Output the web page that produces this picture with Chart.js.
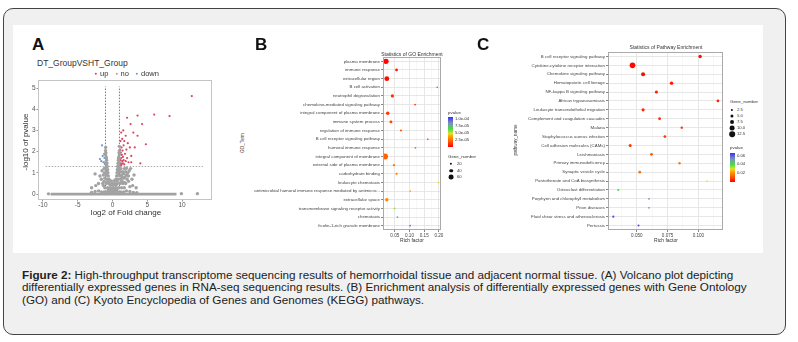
<!DOCTYPE html>
<html>
<head>
<meta charset="utf-8">
<script src="https://cdn.jsdelivr.net/npm/chart.js@4.4.0/dist/chart.umd.min.js"></script>
<style>
  body { margin: 0; width: 798px; height: 342px; background: #fff; position: relative; overflow: hidden;
         font-family: "Liberation Sans", Arial, sans-serif; color: #222; }
  #frame { position: absolute; left: 3px; top: 8px; width: 783px; height: 327px; box-sizing: border-box;
           border: 1px solid #444; border-radius: 10px; background: #f0f0f0; }
  #panel { position: absolute; left: 13px; top: 25px; width: 750px; height: 228px; background: #fff; }
  canvas { position: absolute; }
  .l { position: absolute; white-space: nowrap; transform: translateY(-50%); line-height: 1; }
  .c { position: absolute; white-space: nowrap; transform: translate(-50%, -50%); line-height: 1; }
  .v { position: absolute; white-space: nowrap; transform: translate(-50%, -50%) rotate(-90deg); line-height: 1; }
  .letter { font-weight: bold; font-size: 17px; color: #111; }
  .dot { position: absolute; border-radius: 50%; transform: translate(-50%, -50%); }
  #caption { position: absolute; left: 22px; top: 269px; font-size: 11.7px; line-height: 12.4px; color: #222; white-space: nowrap; }
</style>
</head>
<body>
<div id="frame"></div>
<div id="panel"></div>

<canvas id="volcano" width="200" height="135" style="left:16px;top:75px;width:200px;height:135px"></canvas>
<canvas id="goChart" width="195" height="190" style="left:250px;top:52px;width:195px;height:190px"></canvas>
<canvas id="keggChart" width="227" height="195" style="left:500px;top:47px;width:227px;height:195px"></canvas>

<!-- panel A texts -->
<div class="l letter" style="left:32px;top:44px">A</div>
<div class="l" style="left:37px;top:63px;font-size:8.5px;color:#333">DT_GroupVSHT_Group</div>
<div id="legendA"></div>
<div class="c" style="left:126px;top:213px;font-size:8px;color:#333">log2 of Fold change</div>
<div class="v" style="left:26px;top:142px;font-size:8px;color:#333">-log10 of pvalue</div>

<!-- panel B texts -->
<div class="l letter" style="left:255px;top:44px">B</div>
<div class="c" style="left:412px;top:54px;font-size:5px;color:#333">Statistics of GO Enrichment</div>
<div class="v" style="left:243px;top:143px;font-size:4.6px;color:#333">GO_Term</div>
<div class="c" style="left:412px;top:240px;font-size:5px;color:#333">Rich factor</div>
<div id="legendB"></div>

<!-- panel C texts -->
<div class="l letter" style="left:477px;top:44px">C</div>
<div class="c" style="left:666px;top:47px;font-size:5px;color:#333">Statistics of Pathway Enrichment</div>
<div class="v" style="left:516px;top:140px;font-size:4.6px;color:#333">pathway_name</div>
<div class="c" style="left:666px;top:240px;font-size:5px;color:#333">Rich factor</div>
<div id="legendC"></div>

<div id="caption"><b>Figure 2:</b> High-throughput transcriptome sequencing results of hemorrhoidal tissue and adjacent normal tissue. (A) Volcano plot depicting<br>differentially expressed genes in RNA-seq sequencing results. (B) Enrichment analysis of differentially expressed genes with Gene Ontology<br>(GO) and (C) Kyoto Encyclopedia of Genes and Genomes (KEGG) pathways.</div>

<script>
// ---------- Panel A: volcano ----------
const volcanoXTicks = [-10, -5, 0, 5, 10];
const volcanoYTicks = [0, 1, 2, 3, 4, 5];
const foldCut = 1;      // |log2 FC| threshold
const pvalueCut = 1.3;  // -log10(0.05)
const zeroLineX = [-8.9, 9.2];
const thresholdLineX = [-9.6, 13.0];
const volcanoGroups = ['up', 'no', 'down'];

const grayPoints = [
  [-3.0,0.08],[-2.5,0.12],[-2.0,0.15],[-1.6,0.1],[-1.2,0.1],[-0.8,0.1],[-0.4,0.1],[0,0.1],[0.4,0.1],[0.8,0.1],
  [1.2,0.1],[1.6,0.1],[2.0,0.15],[2.5,0.12],[3.0,0.08],[3.5,0.06],[-0.2,0.2],[0.2,0.2],[-0.6,0.2],[0.6,0.2],
  [-1.1,0.3],[-0.7,0.3],[-0.3,0.3],[0.1,0.3],[0.5,0.3],[0.9,0.3],[1.3,0.3],[1.7,0.3],
  [-0.9,0.5],[-0.5,0.5],[-0.1,0.5],[0.3,0.5],[0.7,0.5],[1.1,0.5],[1.5,0.5],[-0.3,0.42],[0.1,0.42],[0.5,0.42],
  [-0.8,0.7],[-0.5,0.7],[0.5,0.7],[0.8,0.7],[-0.2,0.62],[0.2,0.62],[-0.65,0.6],[0.65,0.6],
  [-0.6,0.85],[-0.85,0.9],[-0.65,1.0],[-0.9,1.1],[-0.7,1.15],[-0.95,1.25],[-0.75,1.3],[-0.8,1.45],
  [-0.95,1.5],[-0.85,1.6],[-0.9,1.75],[-1.0,1.85],[-0.95,1.95],[-1.0,2.05],[-0.98,2.2],
  [-0.8,1.05],[-0.85,1.2],[-0.9,1.38],[-0.88,1.68],
  [0.6,0.85],[0.85,0.9],[0.65,1.0],[0.9,1.1],[0.7,1.15],[0.95,1.25],[0.75,1.3],[0.8,1.45],
  [0.95,1.5],[0.85,1.6],[0.9,1.75],[1.0,1.85],[0.95,1.95],[1.0,2.05],[0.98,2.25],
  [0.8,1.05],[0.85,1.2],[0.9,1.38],[0.88,1.68],
  [1.2,0.7],[1.4,0.6],[1.6,0.75],[1.8,0.8],[2.0,0.9],[2.2,1.0],[2.4,1.1],[2.6,1.2],[1.3,0.9],[1.5,1.05],
  [1.7,1.2],[1.2,1.2],[1.9,0.5],[2.3,0.6],[2.8,0.7],[3.1,0.9],[2.9,0.4],[3.4,0.3],[1.1,0.85],[1.6,0.95],
  [2.0,1.22],[2.5,0.35],[1.3,0.55],[1.7,0.55],[2.1,0.7],[1.4,0.8],[1.9,1.05],[2.3,0.85],[1.15,1.05],
  [-1.2,0.6],[-1.4,0.5],[-1.6,0.7],[-1.8,0.85],[-1.3,0.9],[-1.5,1.1],[-1.2,1.2],[-2.0,0.5],[-2.4,0.4],
  [-1.1,0.75],[-2.5,0.95],[-3.0,0.3],[-1.3,0.4],[-1.15,1.0],
  [9.9,0.02],[12.2,0.02],[-9.2,0.01]
];
const upPoints = [
  [1.1,1.35],[1.2,1.45],[1.3,1.38],[1.15,1.6],[1.25,1.7],[1.4,1.55],[1.5,1.45],[1.35,1.85],[1.2,1.95],[1.5,1.75],
  [1.6,1.6],[1.7,1.4],[1.45,2.05],[1.3,2.2],[1.1,2.1],[1.8,1.9],[1.6,2.3],[1.9,1.55],[2.1,1.7],[2.0,2.1],
  [1.15,2.5],[1.4,2.6],[1.7,2.5],[1.25,2.9],[1.55,3.0],[1.9,2.75],[2.2,2.4],[2.5,2.2],[2.3,1.5],[2.7,1.8],
  [2.1,3.6],[2.6,3.3],[3.6,3.7],[6.0,3.75],[8.2,3.68],[4.25,3.3],[3.6,2.75],[4.8,2.35],[3.2,2.2],[2.7,1.5],
  [4.0,1.45],[3.0,2.9],[11.4,4.62]
];
const downPoints = [
  [-1.5,2.3],[-1.4,1.8],[-1.2,1.9],[-1.6,1.55],[-1.3,1.5],[-1.1,1.42],[-1.8,1.65],[-1.15,1.7]
];

// ---------- Panel B: GO enrichment ----------
const goTerms = [
  'plasma membrane', 'immune response', 'extracellular region', 'B cell activation',
  'neutrophil degranulation', 'chemokine-mediated signaling pathway', 'integral component of plasma membrane',
  'immune system process', 'regulation of immune response', 'B cell receptor signaling pathway',
  'humoral immune response', 'integral component of membrane', 'external side of plasma membrane',
  'carbohydrate binding', 'leukocyte chemotaxis',
  'antimicrobial humoral immune response mediated by antimicro...', 'extracellular space',
  'transmembrane signaling receptor activity', 'chemotaxis', 'ficolin-1-rich granule membrane'
];
const goRichFactor = [0.020, 0.056, 0.023, 0.194, 0.042, 0.119, 0.026, 0.037, 0.071, 0.162,
                      0.120, 0.017, 0.047, 0.056, 0.198, 0.102, 0.023, 0.049, 0.059, 0.102];
const goGeneNumber = [68, 28, 60, 7, 35, 14, 38, 30, 16, 10,
                      14, 75, 20, 20, 7, 12, 40, 15, 12, 12];
const goPvalue = [0.1e-5, 0.5e-5, 0.3e-5, 0.8e-5, 1.0e-5, 1.5e-5, 1.2e-5, 1.5e-5, 1.8e-5, 2.0e-5,
                  2.4e-5, 2.2e-5, 2.8e-5, 3.0e-5, 4.5e-5, 3.8e-5, 3.2e-5, 5.6e-5, 8.2e-5, 9.2e-5];
const goXTicks = [0.05, 0.10, 0.15, 0.20];
const goXLabels = ['0.05', '0.10', '0.15', '0.20'];
const goSizeBreaks = [20, 40, 60];
const goPBreaks = [1.0e-4, 7.5e-5, 5.0e-5, 2.5e-5];
const goPLabels = ['1.0e-04', '7.5e-05', '5.0e-05', '2.5e-05'];

// ---------- Panel C: KEGG enrichment ----------
const keggPathways = [
  'B cell receptor signaling pathway', 'Cytokine-cytokine receptor interaction', 'Chemokine signaling pathway',
  'Hematopoietic cell lineage', 'NF-kappa B signaling pathway', 'African trypanosomiasis',
  'Leukocyte transendothelial migration', 'Complement and coagulation cascades', 'Malaria',
  'Staphylococcus aureus infection', 'Cell adhesion molecules (CAMs)', 'Leishmaniasis',
  'Primary immunodeficiency', 'Synaptic vesicle cycle', 'Pantothenate and CoA biosynthesis',
  'Osteoclast differentiation', 'Porphyrin and chlorophyll metabolism', 'Prion diseases',
  'Fluid shear stress and atherosclerosis', 'Pertussis'
];
const keggRichFactor = [0.1014, 0.0465, 0.0551, 0.0782, 0.0659, 0.1159, 0.0551, 0.0685, 0.0865, 0.0728,
                        0.0446, 0.0619, 0.0847, 0.0524, 0.1070, 0.0349, 0.0599, 0.0599, 0.0309, 0.0514];
const keggGeneNumber = [6, 12.5, 8, 6, 5, 4, 5, 4, 3, 4,
                        5, 4, 3, 4, 1, 2, 1, 1, 2, 2];
const keggPvalue = [0.002, 0.001, 0.002, 0.003, 0.004, 0.005, 0.005, 0.006, 0.007, 0.008,
                    0.008, 0.012, 0.018, 0.016, 0.030, 0.042, 0.055, 0.055, 0.064, 0.063];
const keggXTicks = [0.050, 0.075, 0.100];
const keggXLabels = ['0.050', '0.075', '0.100'];
const keggSizeBreaks = [2.5, 5, 7.5, 10, 12.5];
const keggSizeLabels = ['2.5', '5.0', '7.5', '10.0', '12.5'];
const keggPBreaks = [0.06, 0.04, 0.02];
const keggPLabels = ['0.06', '0.04', '0.02'];

// ---------- styling helpers ----------
Chart.defaults.font.family = '"Liberation Sans", Arial, sans-serif';
Chart.defaults.animation = false;

const volcanoColors = { up: '#dc4660', no: '#a2a2a2', down: '#6a98c8' };
const rampStops = [
  [0, [255, 0, 0]], [0.2, [255, 96, 0]], [0.35, [255, 160, 0]], [0.45, [226, 226, 40]],
  [0.6, [70, 222, 70]], [0.8, [128, 142, 190]], [1, [50, 50, 255]]
];
function ramp(t) {
  t = Math.max(0, Math.min(1, t));
  for (let i = 1; i < rampStops.length; i++) {
    if (t <= rampStops[i][0]) {
      const [t0, c0] = rampStops[i - 1], [t1, c1] = rampStops[i];
      const f = (t - t0) / (t1 - t0);
      return 'rgb(' + c0.map((c, k) => Math.round(c + (c1[k] - c) * f)).join(',') + ')';
    }
  }
  return 'rgb(50,50,255)';
}
const rampCss = 'linear-gradient(to top,' + rampStops.map(s => `rgb(${s[1].join(',')}) ${s[0] * 100}%`).join(',') + ')';

const goPMax = 1.07e-4;
const keggPMax = 0.067;
const goRadius = g => 0.5 + g * 0.032;
const keggRadius = g => 0.7 + g * 0.17;

// border round the plot panel, like ggplot
const panelBox = {
  id: 'panelBox',
  afterDatasetsDraw(chart, args, opts) {
    const a = chart.chartArea, ctx = chart.ctx;
    ctx.save();
    ctx.strokeStyle = opts.color || '#999';
    ctx.lineWidth = 1;
    ctx.strokeRect(Math.round(a.left) + 0.5, Math.round(a.top) + 0.5,
                   Math.round(a.right - a.left) - 1, Math.round(a.bottom - a.top) - 1);
    ctx.restore();
  }
};

function fixedTicks(values) {
  return scale => { scale.ticks = values.map(v => ({ value: v })); };
}

// ---------- Panel A chart ----------
const toXY = p => ({ x: p[0], y: p[1] });
new Chart(document.getElementById('volcano'), {
  type: 'scatter',
  data: {
    datasets: [
      { data: zeroLineX.map(x => ({ x: x, y: 0 })), showLine: true, borderColor: volcanoColors.no,
        borderWidth: 2.8, pointRadius: 0 },
      { data: grayPoints.map(toXY), backgroundColor: volcanoColors.no, pointRadius: 1.7, borderWidth: 0 },
      { data: upPoints.map(toXY), backgroundColor: volcanoColors.up, pointRadius: 1.1, borderWidth: 0 },
      { data: downPoints.map(toXY), backgroundColor: volcanoColors.down, pointRadius: 1.1, borderWidth: 0 },
      { data: [{ x: -foldCut, y: -0.05 }, { x: -foldCut, y: 5.07 }], showLine: true, borderColor: '#555',
        borderWidth: 0.8, borderDash: [1.5, 1.5], pointRadius: 0 },
      { data: [{ x: foldCut, y: -0.05 }, { x: foldCut, y: 5.07 }], showLine: true, borderColor: '#555',
        borderWidth: 0.8, borderDash: [1.5, 1.5], pointRadius: 0 },
      { data: thresholdLineX.map(x => ({ x: x, y: pvalueCut })), showLine: true, borderColor: '#999',
        borderWidth: 0.8, borderDash: [1.5, 1.5], pointRadius: 0 }
    ]
  },
  options: {
    responsive: false,
    layout: { padding: { top: 5, right: 2, left: 0, bottom: 0 } },
    plugins: { legend: { display: false }, tooltip: { enabled: false }, panelBox: { color: '#c4c4c4' } },
    scales: {
      x: {
        type: 'linear', min: -10.7, max: 14.3,
        afterBuildTicks: fixedTicks(volcanoXTicks),
        afterFit: s => { s.height = 10; },
        grid: { drawOnChartArea: false, drawTicks: true, tickLength: 1.5, tickColor: '#999' },
        border: { display: false },
        ticks: { font: { size: 6.5 }, color: '#555', padding: 0, maxRotation: 0 }
      },
      y: {
        type: 'linear', min: -0.28, max: 5.38,
        afterBuildTicks: fixedTicks(volcanoYTicks),
        afterFit: s => { s.width = 22; },
        grid: { drawOnChartArea: false, drawTicks: true, tickLength: 1.5, tickColor: '#999' },
        border: { display: false },
        ticks: { font: { size: 6.5 }, color: '#555', padding: 1 }
      }
    }
  },
  plugins: [panelBox]
});

// ---------- Panel B / C charts ----------
function enrichChart(canvasId, terms, rich, genes, pvals, pMax, radiusOf, xMin, xMax, xTicks, xLabels, yWidth) {
  const minors = [];
  const step = xTicks[1] - xTicks[0];
  [xTicks[0] - step / 2].concat(xTicks.map(v => v + step / 2)).forEach(v => {
    if (v > xMin && v < xMax) minors.push(v);
  });
  const allTicks = xTicks.concat(minors).sort((a, b) => a - b);
  const isMajor = v => xTicks.some(t => Math.abs(t - v) < 1e-9);

  return new Chart(document.getElementById(canvasId), {
    type: 'scatter',
    data: {
      datasets: [{
        data: terms.map((t, i) => ({ x: rich[i], y: t })),
        pointRadius: genes.map(radiusOf),
        pointBackgroundColor: pvals.map(p => ramp(p / pMax)),
        pointBorderWidth: 0
      }]
    },
    options: {
      responsive: false,
      layout: { padding: { top: 5, right: 3, left: 0, bottom: 0 } },
      plugins: { legend: { display: false }, tooltip: { enabled: false }, panelBox: { color: '#aaa' } },
      scales: {
        x: {
          type: 'linear', min: xMin, max: xMax,
          afterBuildTicks: fixedTicks(allTicks),
          afterFit: s => { s.height = 12; },
          grid: {
            color: ctx => isMajor(ctx.tick.value) ? '#e4e4e4' : '#f1f1f1',
            lineWidth: ctx => isMajor(ctx.tick.value) ? 0.9 : 0.6,
            tickColor: ctx => isMajor(ctx.tick.value) ? '#777' : 'rgba(0,0,0,0)',
            drawTicks: true, tickLength: 2
          },
          border: { display: false },
          ticks: {
            font: { size: 4.6 }, color: '#444', padding: 1, maxRotation: 0, autoSkip: false,
            callback: v => { const i = xTicks.findIndex(t => Math.abs(t - v) < 1e-9); return i < 0 ? '' : xLabels[i]; }
          }
        },
        y: {
          type: 'category', labels: terms, offset: true,
          afterFit: s => { s.width = yWidth; },
          grid: { color: '#e4e4e4', lineWidth: 0.9, offset: false, drawTicks: true, tickLength: 2, tickColor: '#777' },
          border: { display: false },
          ticks: { font: { size: 4.4 }, color: '#444', padding: 1, autoSkip: false }
        }
      }
    },
    plugins: [panelBox]
  });
}

enrichChart('goChart', goTerms, goRichFactor, goGeneNumber, goPvalue, goPMax, goRadius,
            0.010, 0.207, goXTicks, goXLabels, 133);
enrichChart('keggChart', keggPathways, keggRichFactor, keggGeneNumber, keggPvalue, keggPMax, keggRadius,
            0.0266, 0.1200, keggXTicks, keggXLabels, 108);

// ---------- HTML legends ----------
function addText(parent, cls, x, y, text, size, color) {
  const d = document.createElement('div');
  d.className = cls;
  d.style.left = x + 'px';
  d.style.top = y + 'px';
  d.style.fontSize = size + 'px';
  d.style.color = color || '#333';
  d.textContent = text;
  parent.appendChild(d);
}
function addDot(parent, x, y, r, color) {
  const d = document.createElement('div');
  d.className = 'dot';
  d.style.left = x + 'px';
  d.style.top = y + 'px';
  d.style.width = d.style.height = (2 * r) + 'px';
  d.style.background = color;
  parent.appendChild(d);
}
function addBar(parent, x, top, h) {
  const d = document.createElement('div');
  d.style.position = 'absolute';
  d.style.left = x + 'px';
  d.style.top = top + 'px';
  d.style.width = '5px';
  d.style.height = h + 'px';
  d.style.background = rampCss;
  parent.appendChild(d);
}

// A: up / no / down
const legA = document.getElementById('legendA');
const legAX = [96, 116.5, 137];
volcanoGroups.forEach((g, i) => {
  addDot(legA, legAX[i], 74, 1.2, volcanoColors[g]);
  addText(legA, 'l', legAX[i] + 4, 74, g, 7.5, '#333');
});

// B: pvalue colour bar + Gene_number sizes
const legB = document.getElementById('legendB');
addText(legB, 'l', 448, 113, 'pvalue', 4.4);
addBar(legB, 448, 117, 30);
goPBreaks.forEach((p, i) => addText(legB, 'l', 455, 147 - 30 * p / goPMax, goPLabels[i], 4.2));
addText(legB, 'l', 448, 157, 'Gene_number', 4.4);
goSizeBreaks.forEach((g, i) => {
  addDot(legB, 451, 164 + i * 6.5, goRadius(g), '#111');
  addText(legB, 'l', 457, 164 + i * 6.5, String(g), 4.2);
});

// C: Gene_number sizes + pvalue colour bar
const legC = document.getElementById('legendC');
addText(legC, 'l', 730, 102, 'Gene_number', 4.4);
keggSizeBreaks.forEach((g, i) => {
  addDot(legC, 732, 110 + i * 6, keggRadius(g), '#111');
  addText(legC, 'l', 737, 110 + i * 6, keggSizeLabels[i], 4.2);
});
addText(legC, 'l', 730, 148, 'pvalue', 4.4);
addBar(legC, 730, 152.7, 29);
keggPBreaks.forEach((p, i) => addText(legC, 'l', 737, 181.7 - 29 * p / keggPMax, keggPLabels[i], 4.2));
</script>
</body>
</html>
